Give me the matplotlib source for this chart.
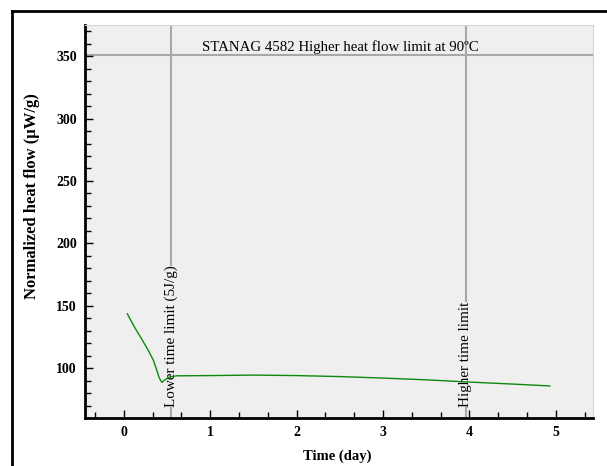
import matplotlib
matplotlib.use("Agg")
import matplotlib.pyplot as plt
from matplotlib.ticker import MultipleLocator
from matplotlib.lines import Line2D

# heat flow curve
days = [0.04, 0.09, 0.13, 0.2, 0.28, 0.34, 0.38, 0.41, 0.44, 0.47, 0.53, 0.61,
        1.0, 1.5, 2.0, 2.5, 3.0, 3.5, 4.0, 4.5, 4.93]
flow = [143.5, 137, 132, 124, 114.5, 106.5, 98.5, 92, 88.5, 90.3, 93, 93.8,
        94.0, 94.4, 94.0, 93.2, 92.0, 90.6, 88.8, 87.2, 85.7]

heat_limit = 351
lower_time = 0.545
higher_time = 3.955
heat_label = "STANAG 4582 Higher heat flow limit at 90ºC"
lower_label = "Lower time limit (5J/g)"
higher_label = "Higher time limit"

plt.rcParams['font.family'] = ['Liberation Serif', 'DejaVu Serif']

fig = plt.figure(figsize=(6.07, 4.66), dpi=100)
ax = fig.add_axes([85 / 607, 48 / 466, 508 / 607, 393 / 466])
ax.set_facecolor('#efefef')

# outer frame (cut off on right and bottom)
W, H = 607, 466
fig.add_artist(Line2D([12 / W, 12 / W], [0, 1 - 11 / H], color='black', lw=2,
                      transform=fig.transFigure))
fig.add_artist(Line2D([12 / W, 1], [1 - 11 / H, 1 - 11 / H], color='black', lw=2,
                      transform=fig.transFigure))

ax.set_xlim(-0.45, 5.43)
ax.set_ylim(60, 375)

ax.axhline(heat_limit, color='#a8a8a8', lw=1.5, zorder=1)
ax.axvline(lower_time, color='#a8a8a8', lw=1.5, zorder=1)
ax.axvline(higher_time, color='#a8a8a8', lw=1.5, zorder=1)

ax.plot(days, flow, color='#0a8a0a', lw=1.0, zorder=3)

ax.text(0.9, heat_limit + 0.5, heat_label, fontsize=10.7, va='bottom', ha='left',
        zorder=2)
box = dict(facecolor='#efefef', edgecolor='none', pad=0)
ax.text(lower_time, 68.5, lower_label, rotation=90, fontsize=10.9,
        ha='center', va='bottom', bbox=box, zorder=2)
ax.text(higher_time, 68.5, higher_label, rotation=90, fontsize=10.9,
        ha='center', va='bottom', bbox=box, zorder=2)

ax.xaxis.set_major_locator(MultipleLocator(1))
ax.xaxis.set_minor_locator(MultipleLocator(1 / 3))
ax.set_yticks([100, 150, 200, 250, 300, 350])
ax.yaxis.set_minor_locator(MultipleLocator(10))

ax.tick_params(which='both', direction='in', width=1, color='black',
               labelsize=10, top=False, right=False)
ax.tick_params(which='major', length=6, pad=6)
ax.tick_params(which='minor', length=4)
for lab in ax.get_xticklabels() + ax.get_yticklabels():
    lab.set_fontweight('bold')

for side in ['left', 'bottom']:
    ax.spines[side].set_linewidth(2)
    ax.spines[side].set_color('black')
for side in ['top', 'right']:
    ax.spines[side].set_linewidth(0.8)
    ax.spines[side].set_color('#d4d4d4')

ax.set_xlabel("Time (day)", fontsize=10.5, fontweight='bold')
ax.set_ylabel("Normalized heat flow (µW/g)", fontsize=12, fontweight='bold',
              va='center')
ax.xaxis.set_label_coords(0.497, -0.079)
ax.yaxis.set_label_coords(-0.104, 0.564)

fig.savefig("out.png", dpi=100)
